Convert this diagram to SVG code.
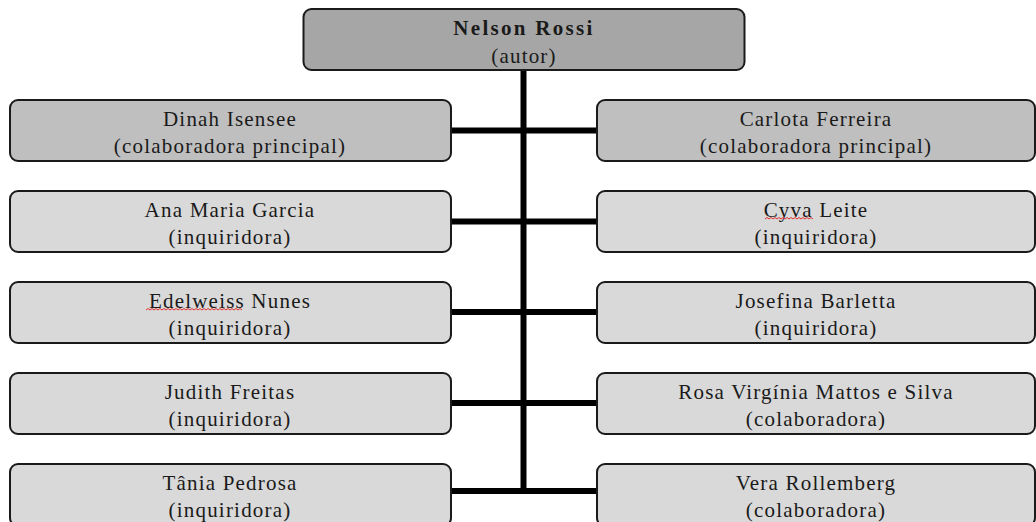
<svg xmlns="http://www.w3.org/2000/svg" width="1036" height="522" viewBox="0 0 1036 522">
<style>
.box{stroke:#1a1a1a;stroke-width:2;}
.dark{fill:#a6a6a6;}
.mid{fill:#bfbfbf;}
.light{fill:#d9d9d9;}
text{font-family:"Liberation Serif","Times New Roman",serif;font-size:21px;fill:#1a1a1a;text-anchor:middle;letter-spacing:1.2px;}
.b{font-weight:bold;letter-spacing:2.3px;}
.conn{stroke:#000;stroke-width:6;fill:none;}
.sq{stroke:#e03030;stroke-width:1;fill:none;}
</style>
<rect width="1036" height="522" fill="#fff"/>
<g id="connectors">
<line class="conn" x1="523.5" y1="70" x2="523.5" y2="494"/>
<line class="conn" x1="451" y1="130.5" x2="597" y2="130.5"/>
<line class="conn" x1="451" y1="221.5" x2="597" y2="221.5"/>
<line class="conn" x1="451" y1="312" x2="597" y2="312"/>
<line class="conn" x1="451" y1="403" x2="597" y2="403"/>
<line class="conn" x1="451" y1="491" x2="597" y2="491"/>
</g>
<g id="n0"><rect class="box dark" x="303.5" y="9" width="441" height="61" rx="8"/><text class="b" x="524" y="35">Nelson Rossi</text><text x="524" y="63">(autor)</text></g>
<g id="l1"><rect class="box mid" x="10" y="100" width="441" height="61" rx="8"/><text x="230" y="126">Dinah Isensee</text><text x="230" y="153">(colaboradora principal)</text></g>
<g id="r1"><rect class="box mid" x="597" y="100" width="438" height="61" rx="8"/><text x="816" y="126">Carlota Ferreira</text><text x="816" y="153">(colaboradora principal)</text></g>
<g id="l2"><rect class="box light" x="10" y="191" width="441" height="61" rx="8"/><text x="230" y="217">Ana Maria Garcia</text><text x="230" y="244">(inquiridora)</text></g>
<g id="r2"><rect class="box light" x="597" y="191" width="438" height="61" rx="8"/><text x="816" y="217">Cyva Leite</text><text x="816" y="244">(inquiridora)</text>
<path class="sq" d="M765 219 l2 -1.5 l2 1.5 l2 -1.5 l2 1.5 l2 -1.5 l2 1.5 l2 -1.5 l2 1.5 l2 -1.5 l2 1.5 l2 -1.5 l2 1.5 l2 -1.5 l2 1.5 l2 -1.5 l2 1.5 l2 -1.5 l2 1.5 l2 -1.5 l2 1.5 l2 -1.5 l2 1.5 l2 -1.5 l2 1.5"/></g>
<g id="l3"><rect class="box light" x="10" y="282" width="441" height="61" rx="8"/><text x="230" y="308">Edelweiss Nunes</text><text x="230" y="335">(inquiridora)</text>
<path class="sq" d="M146 310 l2 -1.5 l2 1.5 l2 -1.5 l2 1.5 l2 -1.5 l2 1.5 l2 -1.5 l2 1.5 l2 -1.5 l2 1.5 l2 -1.5 l2 1.5 l2 -1.5 l2 1.5 l2 -1.5 l2 1.5 l2 -1.5 l2 1.5 l2 -1.5 l2 1.5 l2 -1.5 l2 1.5 l2 -1.5 l2 1.5 l2 -1.5 l2 1.5 l2 -1.5 l2 1.5 l2 -1.5 l2 1.5 l2 -1.5 l2 1.5 l2 -1.5 l2 1.5 l2 -1.5 l2 1.5 l2 -1.5 l2 1.5 l2 -1.5 l2 1.5 l2 -1.5 l2 1.5 l2 -1.5 l2 1.5 l2 -1.5 l2 1.5 l2 -1.5 l2 1.5"/></g>
<g id="r3"><rect class="box light" x="597" y="282" width="438" height="61" rx="8"/><text x="816" y="308">Josefina Barletta</text><text x="816" y="335">(inquiridora)</text></g>
<g id="l4"><rect class="box light" x="10" y="373" width="441" height="61" rx="8"/><text x="230" y="399">Judith Freitas</text><text x="230" y="426">(inquiridora)</text></g>
<g id="r4"><rect class="box light" x="597" y="373" width="438" height="61" rx="8"/><text x="816" y="399">Rosa Virgínia Mattos e Silva</text><text x="816" y="426">(colaboradora)</text></g>
<g id="l5"><rect class="box light" x="10" y="464" width="441" height="62" rx="8"/><text x="230" y="490">Tânia Pedrosa</text><text x="230" y="517">(inquiridora)</text></g>
<g id="r5"><rect class="box light" x="597" y="464" width="438" height="62" rx="8"/><text x="816" y="490">Vera Rollemberg</text><text x="816" y="517">(colaboradora)</text></g>
</svg>
